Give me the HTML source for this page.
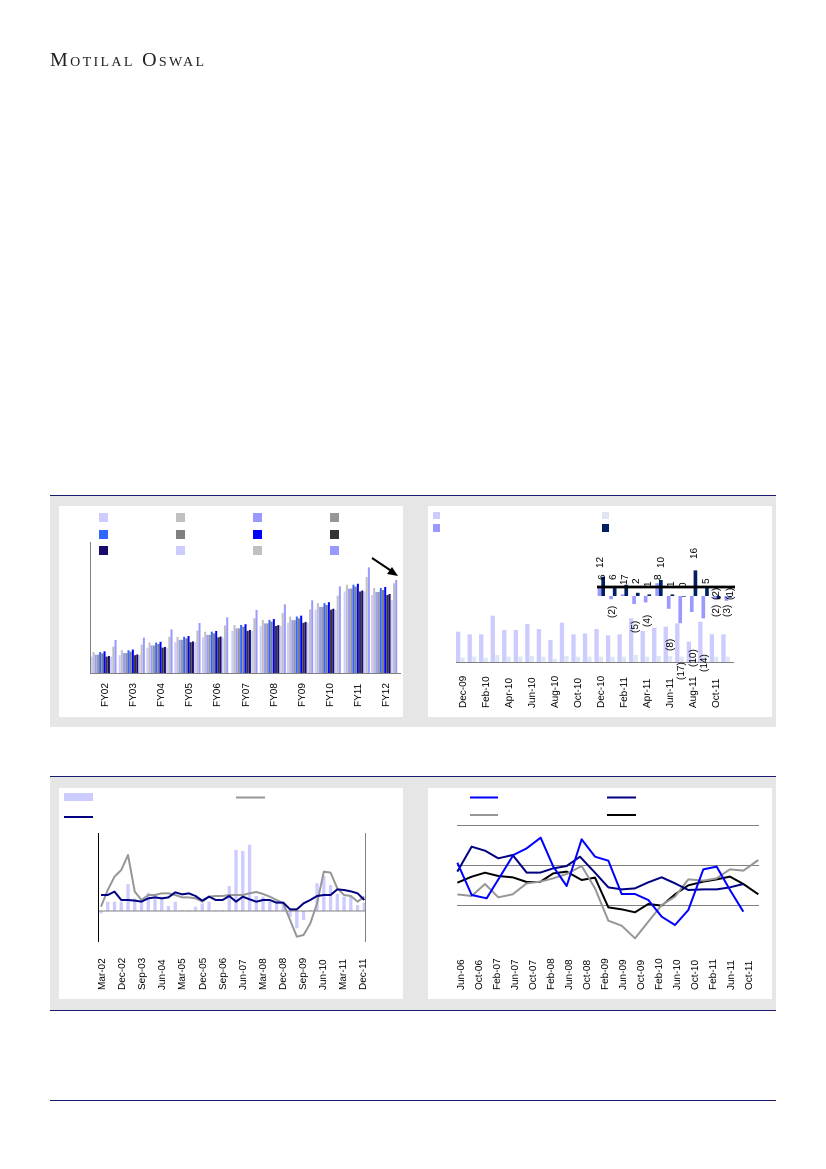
<!DOCTYPE html>
<html><head><meta charset="utf-8">
<style>
html,body{margin:0;padding:0;background:#fff;width:826px;height:1169px;overflow:hidden}
svg{position:absolute;left:0;top:0}
text{font-family:"Liberation Sans",sans-serif;font-size:10px;fill:#000}
</style></head><body>
<svg width="826" height="1169" viewBox="0 0 826 1169" xmlns="http://www.w3.org/2000/svg">
<text x="50" y="66" textLength="154" lengthAdjust="spacing" style="font-family:'Liberation Serif',serif;font-size:20px;font-variant:small-caps;fill:#222">Motilal Oswal</text>

<rect x="50" y="496" width="726" height="231" fill="#e6e6e6"/>
<line x1="50" y1="495.5" x2="776" y2="495.5" stroke="#1a1a6e" stroke-width="1"/>
<rect x="59" y="506" width="344" height="211" fill="#fff"/>
<rect x="428" y="506" width="344" height="211" fill="#fff"/>

<rect x="50" y="777" width="726" height="233" fill="#e6e6e6"/>
<line x1="50" y1="776.5" x2="776" y2="776.5" stroke="#1a1a6e" stroke-width="1"/>
<line x1="50" y1="1010.5" x2="776" y2="1010.5" stroke="#1a1a6e" stroke-width="1"/>
<rect x="59" y="788" width="344" height="211" fill="#fff"/>
<rect x="428" y="788" width="344" height="211" fill="#fff"/>
<line x1="50" y1="1100.5" x2="776" y2="1100.5" stroke="#1a1a6e" stroke-width="1"/>

<g>
<rect x="99" y="513" width="9" height="9" fill="#ccf"/><rect x="176" y="513" width="9" height="9" fill="#c0c0c0"/><rect x="253" y="513" width="9" height="9" fill="#99f"/><rect x="330" y="513" width="9" height="9" fill="#969696"/>
<rect x="99" y="530" width="9" height="9" fill="#36f"/><rect x="176" y="530" width="9" height="9" fill="#808080"/><rect x="253" y="530" width="9" height="9" fill="#00f"/><rect x="330" y="530" width="9" height="9" fill="#333"/>
<rect x="99" y="546" width="9" height="9" fill="#1a0a6e"/><rect x="176" y="546" width="9" height="9" fill="#ccf"/><rect x="253" y="546" width="9" height="9" fill="#c0c0c0"/><rect x="330" y="546" width="9" height="9" fill="#99f"/>
</g>
<g id="c1bars" transform="translate(40,490) scale(0.33333)"></g>
<line x1="90.5" y1="542" x2="90.5" y2="673" stroke="#808080"/>
<line x1="90" y1="673.5" x2="401" y2="673.5" stroke="#808080"/>
<line x1="372" y1="558" x2="393" y2="572" stroke="#000" stroke-width="2"/>
<polygon points="398,576 387,574 392,567" fill="#000"/>
<g transform="rotate(-90)">
<text x="-707" y="108">FY02</text><text x="-707" y="136">FY03</text><text x="-707" y="164">FY04</text><text x="-707" y="192">FY05</text><text x="-707" y="220">FY06</text><text x="-707" y="249">FY07</text><text x="-707" y="277">FY08</text><text x="-707" y="305">FY09</text><text x="-707" y="333">FY10</text><text x="-707" y="361">FY11</text><text x="-707" y="389">FY12</text>
</g>

<rect x="433" y="512" width="7" height="7" fill="#ccf"/><rect x="433" y="524" width="7" height="8" fill="#99f"/>
<rect x="602" y="512" width="7" height="7" fill="#dde6f2"/><rect x="602" y="524" width="7" height="8" fill="#002060"/>
<g id="c2bars" transform="translate(420,490) scale(0.33333)"></g>
<line x1="456" y1="662.5" x2="734" y2="662.5" stroke="#808080"/>
<g transform="rotate(-90)">
<text x="-708" y="466">Dec-09</text><text x="-708" y="489">Feb-10</text><text x="-708" y="512">Apr-10</text><text x="-708" y="535">Jun-10</text><text x="-708" y="558">Aug-10</text><text x="-708" y="581">Oct-10</text><text x="-708" y="604">Dec-10</text><text x="-708" y="627">Feb-11</text><text x="-708" y="650">Apr-11</text><text x="-708" y="673">Jun-11</text><text x="-708" y="696">Aug-11</text><text x="-708" y="719">Oct-11</text>
</g>
<g id="mini" transform="translate(420,490) scale(0.33333)"></g>
<line x1="597" y1="587" x2="735" y2="587" stroke="#000" stroke-width="2.7"/>
<g transform="rotate(-90)" style="font-size:9px">
<text x="-580" y="605">6</text><text x="-580" y="603" dx="12">12</text>
<text x="-618" y="615">(2)</text><text x="-580" y="616">6</text>
<text x="-585" y="627">1</text><text x="-580" y="628">7</text>
<text x="-633" y="638">(5)</text><text x="-584" y="639">2</text>
<text x="-627" y="650">(4)</text><text x="-587" y="651">1</text>
<text x="-580" y="661">8</text><text x="-580" y="664" dx="12">10</text>
<text x="-651" y="673">(8)</text><text x="-587" y="674">1</text>
<text x="-680" y="684">(17)</text><text x="-588" y="686">0</text>
<text x="-667" y="696">(10)</text><text x="-576" y="697" dx="17">16</text>
<text x="-672" y="707">(14)</text><text x="-584" y="709">5</text>
<text x="-617" y="719">(2)</text><text x="-600" y="719">(2)</text>
<text x="-617" y="730">(3)</text><text x="-600" y="733">(1)</text>
</g>

<rect x="64" y="793" width="29" height="8" fill="#ccf"/>
<line x1="236" y1="797.5" x2="265" y2="797.5" stroke="#969696" stroke-width="2"/>
<line x1="64" y1="817" x2="93" y2="817" stroke="#000080" stroke-width="2"/>
<g id="c3" transform="translate(40,770) scale(0.33333)"></g>
<line x1="98.5" y1="833" x2="98.5" y2="942" stroke="#000"/>
<line x1="365.5" y1="833" x2="365.5" y2="942" stroke="#808080"/>
<g transform="rotate(-90)">
<text x="-990" y="105">Mar-02</text><text x="-990" y="125">Dec-02</text><text x="-990" y="145">Sep-03</text><text x="-990" y="165">Jun-04</text><text x="-990" y="185">Mar-05</text><text x="-990" y="206">Dec-05</text><text x="-990" y="226">Sep-06</text><text x="-990" y="246">Jun-07</text><text x="-990" y="266">Mar-08</text><text x="-990" y="286">Dec-08</text><text x="-990" y="306">Sep-09</text><text x="-990" y="326">Jun-10</text><text x="-990" y="346">Mar-11</text><text x="-990" y="366">Dec-11</text>
</g>

<line x1="470" y1="797.5" x2="498" y2="797.5" stroke="#00f" stroke-width="2"/>
<line x1="607" y1="797.5" x2="636" y2="797.5" stroke="#000080" stroke-width="2"/>
<line x1="470" y1="815" x2="498" y2="815" stroke="#969696" stroke-width="2"/>
<line x1="607" y1="815" x2="636" y2="815" stroke="#000" stroke-width="2"/>
<line x1="457" y1="825.5" x2="759" y2="825.5" stroke="#808080"/>
<line x1="457" y1="865.5" x2="759" y2="865.5" stroke="#808080"/>
<line x1="457" y1="905.5" x2="759" y2="905.5" stroke="#808080"/>
<g id="c4" transform="translate(420,770) scale(0.33333)"></g>
<g transform="rotate(-90)">
<text x="-990" y="464">Jun-06</text><text x="-990" y="482">Oct-06</text><text x="-990" y="500">Feb-07</text><text x="-990" y="518">Jun-07</text><text x="-990" y="536">Oct-07</text><text x="-990" y="554">Feb-08</text><text x="-990" y="572">Jun-08</text><text x="-990" y="590">Oct-08</text><text x="-990" y="608">Feb-09</text><text x="-990" y="626">Jun-09</text><text x="-990" y="644">Oct-09</text><text x="-990" y="662">Feb-10</text><text x="-990" y="680">Jun-10</text><text x="-990" y="698">Oct-10</text><text x="-990" y="716">Feb-11</text><text x="-990" y="734">Jun-11</text><text x="-990" y="752">Oct-11</text>
</g>
</svg>
<script>
(function(){
var NS="http://www.w3.org/2000/svg";
function el(p,t,a){var e=document.createElementNS(NS,t);for(var k in a)e.setAttribute(k,a[k]);p.appendChild(e);return e;}
var g=document.getElementById('c1bars');
var cx=[195,280,363,447,530,618,703,785,868,955,1037];
var tops=[490,485,462,445,430,410,395,385,345,290,300];
var cols=["#ccf","#c0c0c0","#99f","#969696","#36f","#808080","#00f","#333","#1a0a6e","#ccf","#c0c0c0","#99f"];
var off=[10,-4,4,4,-4,0,-6,10,8,10,-20,-40];
for(var i=0;i<11;i++){for(var j=0;j<12;j++){
 var t=tops[i]+off[j]*(1+i*0.05); if(i==10&&j>=9){t=[330,280,270][j-9];}
 var x=cx[i]-44+j*6.6; el(g,'rect',{x:x,y:t,width:6,height:550-t,fill:cols[j]});}}
var g2=document.getElementById('c2bars');
var h=[425,433,433,377,420,420,402,417,450,398,433,430,417,436,433,385,423,413,410,400,455,395,433,433];
var s=[503,500,503,495,500,500,498,500,507,498,500,500,500,500,500,495,500,498,498,500,507,498,500,500];
for(var i=0;i<24;i++){var x=108+i*34.6;el(g2,'rect',{x:x,y:h[i],width:13,height:517-h[i],fill:'#ccf'});el(g2,'rect',{x:x+14,y:s[i],width:12,height:517-s[i],fill:'#dde6f2'});}
var m=document.getElementById('mini');
var A=[6,-2,1,-5,-4,8,-8,-17,-10,-14,-2,-3],B=[12,6,7,2,1,10,1,0,16,5,-2,-1];
for(var i=0;i<12;i++){var x=533+i*34.6;
 var a=A[i]*4.8;el(m,'rect',{x:x,y:a>0?318-a:318,width:11,height:Math.abs(a),fill:'#99f'});
 var b=B[i]*4.8;el(m,'rect',{x:x+11,y:b>0?318-b:318,width:11,height:Math.max(Math.abs(b),2),fill:'#002060'});}
var g3=document.getElementById('c3');
var N=40,x0=183,dx=(973-183)/39;
var bars=[430,395,395,395,342,385,390,368,375,380,408,395,420,420,410,400,395,420,420,348,240,243,224,378,380,390,395,400,440,475,450,420,340,318,345,372,380,378,405,398];
for(var i=0;i<N;i++){var v=bars[i];el(g3,'rect',{x:x0+i*dx-5,y:Math.min(v,423),width:10,height:Math.abs(423-v),fill:'#ccf'});}
el(g3,'line',{x1:175,y1:423,x2:975,y2:423,stroke:'#808080','stroke-width':3});
var gr=[410,360,320,300,255,365,390,375,375,370,370,375,382,382,385,395,380,378,378,375,375,375,370,366,372,380,390,400,450,500,495,460,400,305,308,355,375,378,395,380];
var nv=[375,375,365,390,390,392,395,385,382,385,382,367,373,370,378,392,380,390,390,378,395,380,388,395,390,390,398,398,418,418,400,390,378,375,375,358,360,364,370,390];
function pl(p,pts,c,w){el(p,'polyline',{points:pts,fill:'none',stroke:c,'stroke-width':w,'stroke-linejoin':'round'});}
pl(g3,gr.map(function(v,i){return (x0+i*dx)+','+v}).join(' '),'#969696',6);
pl(g3,nv.map(function(v,i){return (x0+i*dx)+','+v}).join(' '),'#000080',6);
var g4=document.getElementById('c4');
pl(g4,"112,338 155,320 195,308 235,318 278,322 320,336 360,336 400,310 440,305 485,330 525,323 565,412 605,418 645,427 685,402 725,407 765,373 805,346 850,335 890,328 930,320 970,342 1015,373",'#000',6);
pl(g4,"112,373 155,378 195,342 235,382 278,373 320,340 360,335 400,325 440,312 485,288 525,355 565,452 605,467 645,505 685,455 725,405 765,380 805,328 850,332 890,325 930,298 970,302 1015,270",'#969696',6);
pl(g4,"112,305 155,230 195,242 235,265 278,255 320,308 360,308 400,295 440,288 480,260 525,308 565,352 605,358 645,355 685,337 725,322 765,340 805,360 850,358 890,358 930,352 970,342",'#000080',6);
pl(g4,"112,278 155,375 200,385 280,255 320,235 362,203 400,290 440,348 485,208 525,260 565,272 605,372 645,372 685,390 725,440 765,465 805,420 850,298 890,290 930,360 970,425",'#00f',6);
})();
</script>
</body></html>
